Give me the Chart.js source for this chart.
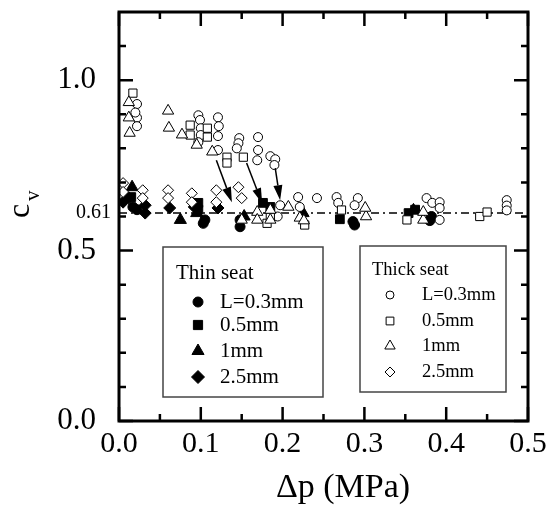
<!DOCTYPE html>
<html>
<head>
<meta charset="utf-8">
<script src="https://cdn.jsdelivr.net/npm/chart.js@4"></script>
<style>
  body { margin: 0; background: #fff; }
  canvas { display: block; }
</style>
</head>
<body>
<canvas id="chart" width="557" height="521"></canvas>
<script>
// tick values
const xMajor = [0, 0.1, 0.2, 0.3, 0.4, 0.5];
const xMinor = [0.05, 0.15, 0.25, 0.35, 0.45];
const yMajor = [0, 0.5, 1.0];
const yMinor = [0.1, 0.2, 0.3, 0.4, 0.6, 0.7, 0.8, 0.9, 1.1];
const refValue = 0.61;

// thin seat (filled symbols)
const thin03 = [[0.017,0.628],[0.022,0.62],[0.103,0.58],[0.105,0.59],[0.148,0.59],[0.148,0.57],[0.286,0.585],[0.288,0.575],[0.382,0.6],[0.38,0.588]];
const thin05 = [[0.015,0.657],[0.097,0.64],[0.097,0.62],[0.176,0.64],[0.185,0.628],[0.27,0.592],[0.354,0.61],[0.362,0.62]];
const thin1 = [[0.016,0.686],[0.075,0.59],[0.095,0.61],[0.153,0.6],[0.225,0.61],[0.36,0.618]];
const thin25 = [[0.005,0.642],[0.012,0.655],[0.032,0.633],[0.032,0.61],[0.062,0.625],[0.092,0.628],[0.121,0.625]];

// thick seat (open symbols)
const thick03 = [[0.022,0.93],[0.022,0.89],[0.022,0.865],[0.02,0.905],
  [0.097,0.897],[0.099,0.883],[0.1,0.859],[0.1,0.839],[0.097,0.818],
  [0.121,0.891],[0.122,0.865],[0.121,0.836],[0.121,0.795],
  [0.147,0.83],[0.146,0.815],[0.144,0.8],
  [0.17,0.833],[0.17,0.795],[0.169,0.765],
  [0.185,0.777],[0.191,0.768],[0.19,0.751],
  [0.197,0.633],[0.194,0.6],[0.219,0.657],[0.221,0.628],[0.242,0.654],
  [0.266,0.657],[0.268,0.64],[0.292,0.654],[0.288,0.633],
  [0.376,0.654],[0.383,0.64],[0.392,0.642],[0.392,0.625],[0.392,0.59],
  [0.474,0.648],[0.474,0.632],[0.474,0.618]];
const thick05 = [[0.017,0.962],[0.087,0.868],[0.087,0.839],[0.108,0.859],[0.108,0.833],
  [0.132,0.774],[0.132,0.757],[0.152,0.774],
  [0.181,0.58],[0.185,0.598],[0.227,0.575],[0.272,0.619],[0.352,0.59],[0.441,0.6],[0.45,0.613]];
const thick1 = [[0.012,0.935],[0.012,0.89],[0.013,0.845],[0.06,0.91],[0.061,0.86],
  [0.077,0.84],[0.095,0.81],[0.114,0.79],
  [0.15,0.59],[0.169,0.613],[0.185,0.619],[0.169,0.59],[0.185,0.59],
  [0.207,0.628],[0.221,0.596],[0.226,0.588],[0.302,0.6],[0.301,0.625],[0.372,0.59],[0.372,0.613]];
const thick25 = [[0.005,0.698],[0.005,0.672],[0.029,0.677],[0.029,0.654],[0.06,0.677],[0.06,0.654],
  [0.089,0.668],[0.089,0.642],[0.119,0.677],[0.119,0.642],[0.146,0.686],[0.15,0.654]];

// arrows: [x0, y0, x1, y1]
const arrows = [[0.119,0.765,0.138,0.642],[0.156,0.757,0.175,0.639],[0.191,0.742,0.197,0.648]];

const labelsThin = ["L=0.3mm", "0.5mm", "1mm", "2.5mm"];
const labelsThick = ["L=0.3mm", "0.5mm", "1mm", "2.5mm"];
const styles = ["circle", "rect", "triangle", "rectRot"];

const serif = "'Liberation Serif', 'Times New Roman', serif";
Chart.defaults.font.family = serif;
Chart.defaults.color = "#000";
const pts = a => a.map(p => ({ x: p[0], y: p[1] }));

function filled(data, style, r) {
  return { data: pts(data), pointStyle: style, pointRadius: r, pointBackgroundColor: "#000",
    pointBorderColor: "#000", pointBorderWidth: 1 };
}
function open(data, style, r) {
  return { data: pts(data), pointStyle: style, pointRadius: r, pointBackgroundColor: "#fff",
    pointBorderColor: "#000", pointBorderWidth: 1 };
}

function mark(ctx, style, x, y, r, fill) {
  ctx.beginPath();
  if (style === "circle") {
    ctx.arc(x, y, r, 0, Math.PI * 2);
  } else if (style === "rect") {
    const s = r * Math.SQRT1_2;
    ctx.rect(x - s, y - s, 2 * s, 2 * s);
  } else if (style === "triangle") {
    for (let i = 0; i < 3; i++) {
      const a = -Math.PI / 2 + i * 2 * Math.PI / 3;
      const px = x + r * Math.cos(a), py = y + r * Math.sin(a);
      i ? ctx.lineTo(px, py) : ctx.moveTo(px, py);
    }
    ctx.closePath();
  } else {
    ctx.moveTo(x, y - r); ctx.lineTo(x + r, y); ctx.lineTo(x, y + r); ctx.lineTo(x - r, y);
    ctx.closePath();
  }
  ctx.fillStyle = fill ? "#000" : "#fff";
  ctx.fill();
  ctx.strokeStyle = "#000";
  ctx.lineWidth = 1;
  ctx.stroke();
}

function legendBox(ctx, x0, y0, x1, y1, title, labels, fill, o) {
  ctx.fillStyle = "#fff";
  ctx.fillRect(x0, y0, x1 - x0, y1 - y0);
  ctx.strokeStyle = "#444";
  ctx.lineWidth = 1.5;
  ctx.strokeRect(x0, y0, x1 - x0, y1 - y0);
  ctx.fillStyle = "#000";
  ctx.font = o.size + "px " + serif;
  ctx.textAlign = "left";
  ctx.textBaseline = "middle";
  ctx.fillText(title, o.tx, o.ty);
  labels.forEach((l, i) => {
    mark(ctx, styles[i], o.sx, o.rows[i], o.r[i], fill);
    ctx.fillStyle = "#000";
    ctx.fillText(l, o.lx, o.rows[i]);
  });
}

const decor = {
  id: "decor",
  afterDatasetsDraw(chart) {
    const ctx = chart.ctx, xs = chart.scales.x, ys = chart.scales.y;
    const a = chart.chartArea;
    ctx.save();
    // arrows
    ctx.strokeStyle = "#000"; ctx.fillStyle = "#000"; ctx.lineWidth = 1.5;
    arrows.forEach(r => {
      const x0 = xs.getPixelForValue(r[0]), y0 = ys.getPixelForValue(r[1]);
      const x1 = xs.getPixelForValue(r[2]), y1 = ys.getPixelForValue(r[3]);
      const ang = Math.atan2(y1 - y0, x1 - x0);
      const hl = 15, hw = 4.5;
      const bx = x1 - hl * Math.cos(ang), by = y1 - hl * Math.sin(ang);
      ctx.beginPath(); ctx.moveTo(x0, y0); ctx.lineTo(bx, by); ctx.stroke();
      ctx.beginPath();
      ctx.moveTo(x1, y1);
      ctx.lineTo(bx + hw * Math.sin(ang), by - hw * Math.cos(ang));
      ctx.lineTo(bx - hw * Math.sin(ang), by + hw * Math.cos(ang));
      ctx.closePath(); ctx.fill();
    });
    // inward ticks
    ctx.lineWidth = 2.5;
    const tick = (vals, len, horiz) => vals.forEach(v => {
      ctx.beginPath();
      if (horiz) {
        const px = xs.getPixelForValue(v);
        ctx.moveTo(px, a.bottom); ctx.lineTo(px, a.bottom - len);
        ctx.moveTo(px, a.top); ctx.lineTo(px, a.top + len);
      } else {
        const py = ys.getPixelForValue(v);
        ctx.moveTo(a.left, py); ctx.lineTo(a.left + len, py);
        ctx.moveTo(a.right, py); ctx.lineTo(a.right - len, py);
      }
      ctx.stroke();
    });
    tick(xMajor, 14, true); tick(xMinor, 7, true);
    tick(yMajor, 14, false); tick(yMinor, 7, false);
    // frame
    ctx.lineWidth = 3;
    ctx.strokeRect(a.left, a.top, a.right - a.left, a.bottom - a.top);
    ctx.restore();
  },
  afterDraw(chart) {
    const ctx = chart.ctx, ys = chart.scales.y;
    ctx.save();
    legendBox(ctx, 163, 247, 323, 397, "Thin seat", labelsThin, true,
      { size: 21, tx: 176, ty: 273, sx: 198, lx: 220, rows: [302, 325, 351, 377], r: [5, 6.5, 7, 6.5] });
    legendBox(ctx, 360, 246, 506, 392, "Thick seat", labelsThick, false,
      { size: 18.5, tx: 372, ty: 270, sx: 390, lx: 422, rows: [295, 321, 346, 372], r: [4, 5.5, 6, 5] });
    // 0.61 label
    ctx.fillStyle = "#000";
    ctx.font = "20px " + serif;
    ctx.textAlign = "right";
    ctx.textBaseline = "middle";
    ctx.fillText(refValue.toFixed(2), 111, ys.getPixelForValue(refValue));
    // axis titles
    ctx.font = "34px " + serif;
    ctx.textAlign = "center";
    ctx.fillText("\u0394p (MPa)", 343, 488);
    ctx.font = "32px " + serif;
    ctx.translate(29, 218);
    ctx.rotate(-Math.PI / 2);
    ctx.textAlign = "left";
    ctx.textBaseline = "alphabetic";
    ctx.fillText("c", 0, 0);
    ctx.font = "21px " + serif;
    ctx.fillText("v", 17, 10);
    ctx.restore();
  }
};

new Chart(document.getElementById("chart"), {
  type: "scatter",
  data: {
    datasets: [
      open(thick25, "rectRot", 5.5),
      open(thick1, "triangle", 6.5),
      open(thick05, "rect", 5.8),
      open(thick03, "circle", 4.5),
      filled(thin25, "rectRot", 6),
      filled(thin1, "triangle", 7),
      filled(thin05, "rect", 6.2),
      filled(thin03, "circle", 5),
      {
        type: "line",
        data: [{ x: 0, y: refValue }, { x: 0.5, y: refValue }],
        borderColor: "#000",
        borderWidth: 1.5,
        borderDash: [8, 4, 2, 4],
        pointRadius: 0
      }
    ]
  },
  options: {
    responsive: false,
    animation: false,
    events: [],
    layout: { padding: { top: 12, right: 29, left: 0, bottom: 0 } },
    plugins: { legend: { display: false }, tooltip: { enabled: false } },
    scales: {
      x: {
        min: 0, max: 0.5,
        grid: { display: false },
        border: { display: false },
        afterBuildTicks: s => { s.ticks = xMajor.map(v => ({ value: v })); },
        afterFit: s => { s.height = 100; s.paddingLeft = 0; s.paddingRight = 0; },
        ticks: { color: "#000", padding: -3, maxRotation: 0, font: { family: serif, size: 30 },
          callback: v => v.toFixed(1) }
      },
      y: {
        min: 0, max: 1.2,
        grid: { display: false },
        border: { display: false },
        afterBuildTicks: s => { s.ticks = yMajor.map(v => ({ value: v })); },
        afterFit: s => { s.width = 119; s.paddingTop = 0; s.paddingBottom = 0; },
        ticks: { color: "#000", padding: 15, font: { family: serif, size: 31 },
          callback: v => v.toFixed(1) }
      }
    }
  },
  plugins: [decor]
});
</script>
</body>
</html>
